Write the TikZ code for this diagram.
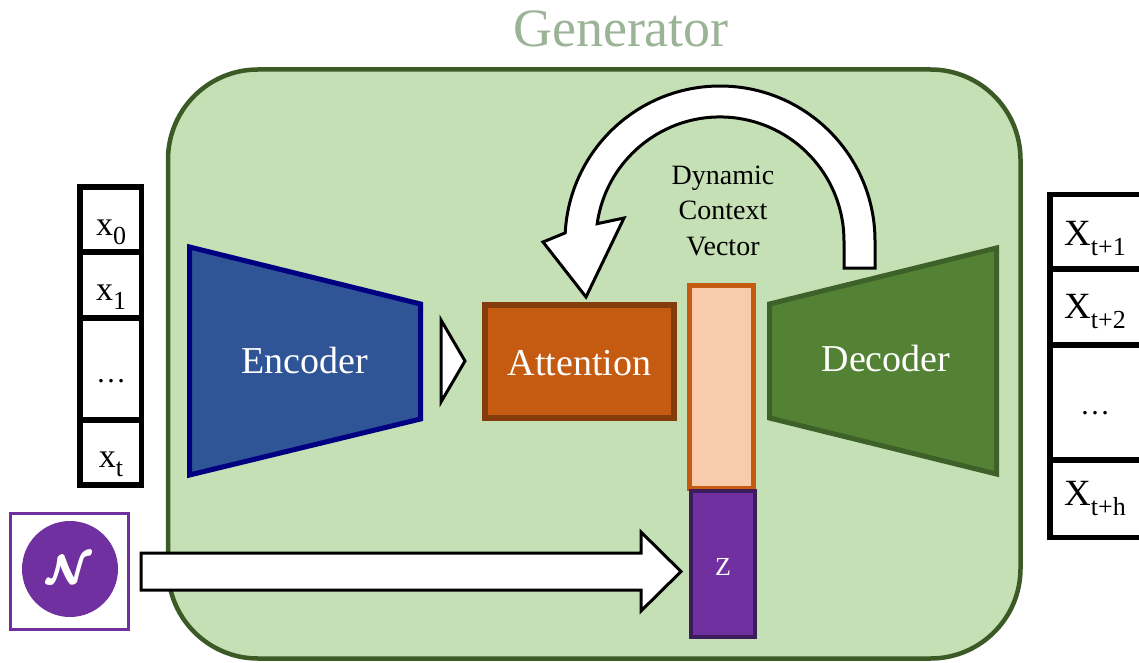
\documentclass[tikz,border=0pt]{standalone}
\usepackage{amsmath}
\usepackage{fontspec}
\setmainfont{Liberation Serif}
\definecolor{genfill}{HTML}{C5E0B4}
\definecolor{genline}{HTML}{3B5A25}
\definecolor{gentitle}{HTML}{9BB396}
\definecolor{encfill}{HTML}{2F5597}
\definecolor{encline}{HTML}{000080}
\definecolor{attfill}{HTML}{C55A11}
\definecolor{attline}{HTML}{843C0C}
\definecolor{ctxfill}{HTML}{F8CBAD}
\definecolor{zfill}{HTML}{7030A0}
\definecolor{zline}{HTML}{3C1D5C}
\definecolor{decfill}{HTML}{548235}
\definecolor{decline}{HTML}{3D6129}
\newcommand\fs[1]{\fontsize{#1}{#1}\selectfont}
\newcommand\lowsub[1]{\raisebox{-0.28em}{\fs{26}#1}}
\tikzset{
  cell/.style={draw=black, line width=5.5pt, fill=white},
  blocktext/.style={text=white, font=\fs{38}, anchor=base, inner sep=0pt},
  celltext/.style={text=black, anchor=base, inner sep=0pt},
  blockarrow/.style={draw=black, line width=3pt, fill=white, line join=miter},
}
\begin{document}
\begin{tikzpicture}[x=1pt, y=-1pt]
\useasboundingbox (0,0) rectangle (1139,663);

% generator frame and title
\draw[fill=genfill, draw=genline, line width=4.5pt, rounded corners=90pt]
  (168,69.5) rectangle (1020.5,658.5);
\node[text=gentitle, font=\fs{54}, anchor=base, inner sep=0pt] (gen) at (621,47) {Generator};

% input sequence
\draw[cell] (80,187) rectangle (141.5,485);
\draw[line width=5.5pt] (80,252) -- (141.5,252) (80,318) -- (141.5,318) (80,420) -- (141.5,420);
\node[celltext, font=\fs{34}] (x0) at (111,235) {x\lowsub{0}};
\node[celltext, font=\fs{34}] (x1) at (111,300) {x\lowsub{1}};
\node[celltext, font=\fs{30}] (xdots) at (111,382) {\dots};
\node[celltext, font=\fs{34}] (xt) at (111,467) {x\lowsub{t}};

% output sequence
\draw[cell] (1050,194.5) rectangle (1143,537.5);
\draw[line width=5.5pt] (1050,269) -- (1143,269) (1050,345) -- (1143,345) (1050,460) -- (1143,460);
\node[celltext, font=\fs{37}] (y1) at (1095,245) {X\lowsub{t+1}};
\node[celltext, font=\fs{37}] (y2) at (1095,318) {X\lowsub{t+2}};
\node[celltext, font=\fs{30}] (ydots) at (1095,414) {\dots};
\node[celltext, font=\fs{37}] (yh) at (1095,505) {X\lowsub{t+h}};

% encoder
\draw[fill=encfill, draw=encline, line width=5pt, line join=miter]
  (189.5,247) -- (420.5,304) -- (420.5,419) -- (189.5,475) -- cycle;
\node[blocktext] (enc) at (305,373) {Encoder};

% decoder
\draw[fill=decfill, draw=decline, line width=5pt, line join=miter]
  (769.5,304) -- (996.5,248) -- (996.5,474) -- (769.5,418) -- cycle;
\node[blocktext] (dec) at (886,371) {Decoder};

% attention
\node[draw=attline, fill=attfill, line width=6pt, minimum width=189pt, minimum height=113pt,
      inner sep=0pt] (att) at (579.5,361.5) {};
\node[blocktext] (atttext) at (579.5,375) {Attention};

% context vector and latent z
\node[draw=attfill, fill=ctxfill, line width=5pt, minimum width=64pt, minimum height=203pt,
      inner sep=0pt] (ctx) at (721.5,387) {};
\node[draw=zline, fill=zfill, line width=4pt, minimum width=64pt, minimum height=146pt,
      inner sep=0pt] (z) at (723,564) {};
\node[text=white, font=\fs{26}, anchor=base, inner sep=0pt] (ztext) at (723,575) {Z};

% noise source
\node[draw=zfill, line width=3pt, minimum width=118pt, minimum height=116pt, inner sep=0pt]
  (nbox) at (69,571) {};
\node[circle, fill=zfill, minimum size=96pt, inner sep=0pt] (ncirc) at (70,569) {};
\node[text=white, inner sep=0pt] (ntext) at (70,569)
  {\scalebox{4}{$\pmb{\boldsymbol{\mathcal{N}}}$}};

% encoder to attention
\draw[blockarrow] (441,320) -- (465,361) -- (441,402) -- cycle;

% noise to z
\coordinate (nstart) at (141,553);
\draw[blockarrow] (nstart) -- (641,553) -- (641,532) -- (681,571.5) -- (641,611) -- (641,590)
  -- (141,590) -- cycle;

% dynamic context vector fed back from decoder to attention
\draw[blockarrow]
  (875,268) -- (875,241) arc[start angle=0, end angle=-177, radius=155]
  -- (543,242) -- (586,297) -- (624,218)
  -- (597.2,223.7) arc[start angle=-172, end angle=0, radius=124]
  -- (844,268) -- cycle;
\node[celltext, font=\fs{28}] (dyn1) at (723,184) {Dynamic};
\node[celltext, font=\fs{28}] (dyn2) at (723,219.5) {Context};
\node[celltext, font=\fs{28}] (dyn3) at (723,255) {Vector};
\end{tikzpicture}
\end{document}
